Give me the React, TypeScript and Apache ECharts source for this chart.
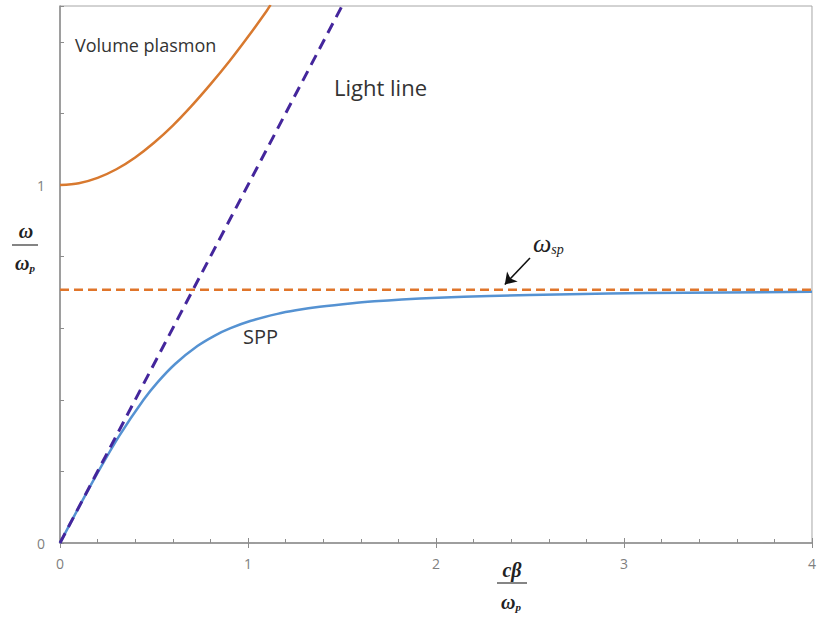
import React, { useEffect, useRef } from "react";
import * as echarts from "echarts";

// Volume plasmon branch (cβ/ωp, ω/ωp)
const volumeX = [0, 0.1, 0.2, 0.3, 0.4, 0.5, 0.6, 0.7, 0.8, 0.9, 1.0, 1.1, 1.12];
const volumeY = [1.0, 1.005, 1.02, 1.044, 1.077, 1.118, 1.166, 1.221, 1.281, 1.345, 1.414, 1.487, 1.503];

// Surface plasmon polariton branch
const sppX = [0, 0.1005, 0.2043, 0.316, 0.4446, 0.521, 0.6124, 0.7309, 0.826, 0.9071, 1.0117, 1.1565, 1.2546, 1.3816, 1.5559, 1.6718, 1.8182, 2.0116, 2.2843, 2.712, 3.1245, 3.5349, 4.0];
const sppY = [0, 0.1, 0.2, 0.3, 0.4, 0.45, 0.5, 0.55, 0.58, 0.6, 0.62, 0.64, 0.65, 0.66, 0.67, 0.675, 0.68, 0.685, 0.69, 0.695, 0.698, 0.7, 0.7015];

// Light line
const lightX = [0, 1.5];
const lightY = [0, 1.5];

// Surface plasmon frequency asymptote
const spX = [0, 4];
const spY = [0.7071, 0.7071];

// Arrow pointing to ω_sp
const arrowFrom = [2.5, 0.796];
const arrowTo = [2.366, 0.722];

const xTickLabels = ["0", "1", "2", "3", "4"];
const yTickLabels = ["0", "1"];

const zip = (xs: number[], ys: number[]) => xs.map((x, i) => [x, ys[i]]);

export default function App() {
  const ref = useRef<HTMLDivElement>(null);

  useEffect(() => {
    if (!ref.current) return;
    const chart = echarts.init(ref.current, undefined, { renderer: "svg" });
    const axisGray = "#8c8c8c";
    const labelGray = "#7f7f7f";
    const serif = "'Liberation Serif', 'DejaVu Serif', serif";
    const sans = "'Open Sans', 'Noto Sans', sans-serif";

    chart.setOption({
      animation: false,
      backgroundColor: "#ffffff",
      grid: {
        left: 60,
        right: 5,
        top: 6,
        bottom: 78,
        show: true,
        borderColor: "#a6a6a6",
        borderWidth: 1,
        containLabel: false,
      },
      xAxis: [
        {
          type: "value",
          min: 0,
          max: 4,
          interval: 1,
          position: "bottom",
          axisLine: { show: true, lineStyle: { color: axisGray, width: 1.5 } },
          axisTick: { show: true, inside: true, length: 5, lineStyle: { color: axisGray } },
          minorTick: { show: true, splitNumber: 5, length: 4, lineStyle: { color: axisGray } },
          splitLine: { show: false },
          axisLabel: {
            color: labelGray,
            fontSize: 14,
            fontFamily: sans,
            margin: 13,
            formatter: (v: number) => (xTickLabels.includes(String(v)) ? String(v) : ""),
          },
        },
        {
          type: "value",
          min: 0,
          max: 4,
          interval: 1,
          position: "bottom",
          offset: 0,
          axisLine: { show: false },
          axisTick: { show: true, inside: false, length: 5, lineStyle: { color: axisGray } },
          splitLine: { show: false },
          axisLabel: { show: false },
        },
      ],
      yAxis: {
        type: "value",
        min: 0,
        max: 1.5,
        interval: 0.2,
        axisLine: { show: true, lineStyle: { color: axisGray, width: 1.5 } },
        axisTick: { show: true, inside: true, length: 4, lineStyle: { color: axisGray } },
        splitLine: { show: false },
        axisLabel: {
          color: labelGray,
          fontSize: 14,
          fontFamily: sans,
          margin: 15,
          formatter: (v: number) => {
            const s = String(Math.round(v * 1000) / 1000);
            return yTickLabels.includes(s) ? s : "";
          },
        },
      },
      series: [
        {
          name: "Volume plasmon",
          type: "line",
          data: zip(volumeX, volumeY),
          showSymbol: false,
          smooth: 0.3,
          lineStyle: { color: "#d8792f", width: 2.5 },
          z: 3,
        },
        {
          name: "SPP",
          type: "line",
          data: zip(sppX, sppY),
          showSymbol: false,
          smooth: 0.3,
          lineStyle: { color: "#5592d2", width: 2.5 },
          z: 3,
        },
        {
          name: "Light line",
          type: "line",
          data: zip(lightX, lightY),
          showSymbol: false,
          lineStyle: { color: "#44269c", width: 3, type: [11, 7] },
          z: 4,
        },
        {
          name: "ω_sp",
          type: "line",
          data: zip(spX, spY),
          showSymbol: false,
          lineStyle: { color: "#e0752a", width: 2.5, type: [9, 5] },
          z: 5,
          markLine: {
            silent: true,
            animation: false,
            symbol: ["none", "arrow"],
            symbolSize: 11,
            label: { show: false },
            lineStyle: { color: "#111111", width: 1.6, type: "solid" },
            data: [
              [
                { coord: arrowFrom, symbol: "none" },
                { coord: arrowTo, symbol: "arrow", symbolSize: 11 },
              ],
            ],
          },
        },
      ],
      graphic: [
        {
          type: "text",
          left: 75,
          top: 36,
          style: { text: "Volume plasmon", fontSize: 18, fontFamily: sans, fill: "#333333" },
        },
        {
          type: "text",
          left: 334,
          top: 76,
          style: { text: "Light line", fontSize: 22, fontFamily: sans, fill: "#333333" },
        },
        {
          type: "text",
          left: 243,
          top: 326,
          style: { text: "SPP", fontSize: 20, fontFamily: sans, fill: "#333333" },
        },
        {
          type: "text",
          left: 533,
          top: 230,
          style: {
            text: "{w|ω}{s|sp}",
            rich: {
              w: { fontSize: 26, fontStyle: "italic", fontFamily: serif, fill: "#222222" },
              s: { fontSize: 14, fontStyle: "italic", fontFamily: serif, fill: "#222222", padding: [12, 0, 0, 0] },
            },
          },
        },
        // y-axis title ω / ωp
        {
          type: "text",
          x: 26,
          y: 231,
          style: {
            text: "ω",
            fontSize: 20,
            fontStyle: "italic",
            fontWeight: "bold",
            fontFamily: serif,
            fill: "#222222",
            align: "center",
            verticalAlign: "middle",
          },
        },
        {
          type: "line",
          shape: { x1: 12, y1: 245, x2: 38, y2: 245 },
          style: { stroke: "#333333", lineWidth: 1.2 },
        },
        {
          type: "text",
          x: 25,
          y: 263,
          style: {
            text: "{w|ω}{p|p}",
            align: "center",
            verticalAlign: "middle",
            rich: {
              w: { fontSize: 20, fontStyle: "italic", fontWeight: "bold", fontFamily: serif, fill: "#222222" },
              p: { fontSize: 11, fontStyle: "italic", fontWeight: "bold", fontFamily: serif, fill: "#222222", padding: [10, 0, 0, 0] },
            },
          },
        },
        // x-axis title cβ / ωp
        {
          type: "text",
          x: 512,
          y: 570,
          style: {
            text: "cβ",
            fontSize: 20,
            fontStyle: "italic",
            fontWeight: "bold",
            fontFamily: serif,
            fill: "#222222",
            align: "center",
            verticalAlign: "middle",
          },
        },
        {
          type: "line",
          shape: { x1: 497, y1: 583, x2: 527, y2: 583 },
          style: { stroke: "#333333", lineWidth: 1.2 },
        },
        {
          type: "text",
          x: 511,
          y: 602,
          style: {
            text: "{w|ω}{p|p}",
            align: "center",
            verticalAlign: "middle",
            rich: {
              w: { fontSize: 20, fontStyle: "italic", fontWeight: "bold", fontFamily: serif, fill: "#222222" },
              p: { fontSize: 11, fontStyle: "italic", fontWeight: "bold", fontFamily: serif, fill: "#222222", padding: [10, 0, 0, 0] },
            },
          },
        },
      ],
    });

    return () => chart.dispose();
  }, []);

  return (
    <div
      ref={ref}
      style={{ position: "fixed", left: 0, top: 0, width: 819, height: 621, background: "#fff" }}
    />
  );
}
